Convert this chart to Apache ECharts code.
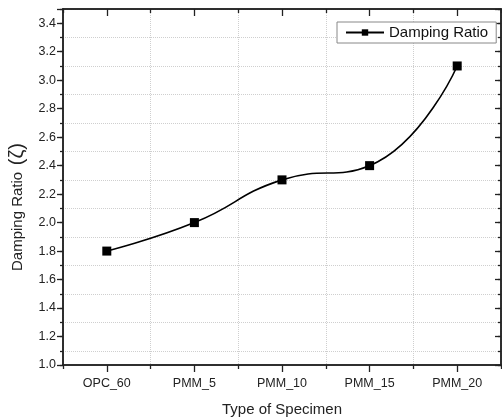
<!DOCTYPE html>
<html><head><meta charset="utf-8">
<script src="https://cdn.jsdelivr.net/npm/echarts@6/dist/echarts.min.js"></script>
<style>html,body{margin:0;padding:0;background:#fff}#c{width:502px;height:418px}</style>
</head><body><div id="c"></div>
<script>
const categories = ['OPC_60', 'PMM_5', 'PMM_10', 'PMM_15', 'PMM_20'];
const dampingRatio = [1.8, 2.0, 2.3, 2.4, 3.1];
const seriesName = 'Damping Ratio';
const xTitle = 'Type of Specimen';
const yTitleMain = 'Damping Ratio';
const yTitleSymbol = '(\u03B6)';
const yMin = 1.0, yMax = 3.5, yMajor = 0.2, yMinor = 0.1;

const FONT = 'Liberation Sans, Arial, sans-serif';
const AX = '#222';
const GRID = '#cfcfcf';

function catAxis(pos, centered, inside, len, extra) {
  return Object.assign({
    type: 'category', position: pos, data: categories, boundaryGap: true,
    axisLine: { show: true, onZero: false, lineStyle: { color: AX, width: 1.5 } },
    axisTick: { show: true, alignWithLabel: centered, inside: inside, length: len, lineStyle: { color: AX, width: 1.3 } },
    axisLabel: { show: false }, splitLine: { show: false }
  }, extra || {});
}
function valAxis(pos, step, inside, len, extra) {
  return Object.assign({
    type: 'value', position: pos, min: yMin, max: yMax, interval: step,
    axisLine: { show: true, onZero: false, lineStyle: { color: AX, width: 1.5 } },
    axisTick: { show: true, inside: inside, length: len, lineStyle: { color: AX, width: 1.3 } },
    axisLabel: { show: false }, splitLine: { show: false }
  }, extra || {});
}

const chart = echarts.init(document.getElementById('c'), null, { renderer: 'canvas' });
chart.setOption({
  animation: false,
  backgroundColor: '#fff',
  textStyle: { fontFamily: FONT },
  grid: { left: 63, right: 1, top: 9, bottom: 53, containLabel: false, outerBoundsMode: 'none' },
  legend: {
    data: [seriesName], left: 337, top: 22,
    borderColor: '#888', borderWidth: 1, backgroundColor: '#fff',
    padding: [3, 8, 3, 8], itemWidth: 38, itemHeight: 8, itemGap: 4,
    textStyle: { fontSize: 15, color: '#111', fontFamily: FONT }
  },
  xAxis: [
    catAxis('bottom', true, false, 7, {
      axisLabel: { show: true, fontSize: 12.5, color: '#222', margin: 12, fontFamily: FONT },
      name: xTitle, nameLocation: 'middle', nameGap: 37,
      nameTextStyle: { fontSize: 15, color: '#222', fontFamily: FONT }
    }),
    catAxis('bottom', false, false, 4, {
      splitLine: { show: true, lineStyle: { color: GRID, type: 'dotted', width: 1 } }
    }),
    catAxis('top', true, true, 7),
    catAxis('top', false, true, 4)
  ],
  yAxis: [
    valAxis('left', yMinor, false, 3, {
      axisLabel: {
        show: true, fontSize: 12.5, color: '#222', margin: 7, fontFamily: FONT,
        formatter: function (v) { const k = Math.round(v * 10); return (k % 2 === 0 && v < yMax - 1e-9) ? (k / 10).toFixed(1) : ''; }
      },
      splitLine: { show: true, lineStyle: { color: ['rgba(0,0,0,0)', GRID], type: 'dotted', width: 1 } },
      name: '{a|' + yTitleMain + '}  {b|' + yTitleSymbol + '}', nameLocation: 'middle', nameGap: 35,
      nameTextStyle: {
        color: '#222', fontFamily: FONT, padding: [0, 40, 0, 0],
        rich: {
          a: { fontSize: 15, color: '#222', fontFamily: FONT },
          b: { fontSize: 20, color: '#222', fontFamily: FONT }
        }
      }
    }),
    valAxis('left', yMajor, false, 6),
    valAxis('right', yMinor, true, 3),
    valAxis('right', yMajor, true, 6)
  ],
  series: [{
    name: seriesName, type: 'line', xAxisIndex: 0, yAxisIndex: 0,
    data: dampingRatio, smooth: 0.5,
    symbol: 'rect', symbolSize: 9, showSymbol: true,
    itemStyle: { color: '#000' },
    lineStyle: { color: '#000', width: 1.6 }
  }]
});
</script>
</body></html>
